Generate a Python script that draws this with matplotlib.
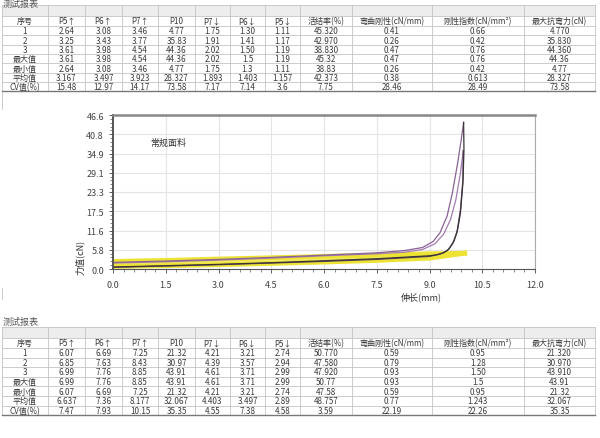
import numpy as np
import matplotlib
matplotlib.use('Agg')
import matplotlib.pyplot as plt
from matplotlib.ticker import MultipleLocator

plt.rcParams['font.family'] = ['Noto Sans CJK SC', 'DejaVu Sans']

# ---- table data ----
col_heads = ['序号', 'P5↑', 'P6↑', 'P7↑', 'P10', 'P7↓', 'P6↓', 'P5↓',
             '活结率(%)', '弯曲刚性(cN/mm)', '刚性指数(cN/mm²)', '最大抗弯力(cN)']
row_names = ['1', '2', '3', '最大值', '最小值', '平均值', 'CV值(%)']

table1 = [
    ['2.64', '3.08', '3.46', '4.77', '1.75', '1.30', '1.11', '45.320', '0.41', '0.66', '4.770'],
    ['3.25', '3.43', '3.77', '35.83', '1.91', '1.41', '1.17', '42.970', '0.26', '0.42', '35.830'],
    ['3.61', '3.98', '4.54', '44.36', '2.02', '1.50', '1.19', '38.830', '0.47', '0.76', '44.360'],
    ['3.61', '3.98', '4.54', '44.36', '2.02', '1.5', '1.19', '45.32', '0.47', '0.76', '44.36'],
    ['2.64', '3.08', '3.46', '4.77', '1.75', '1.3', '1.11', '38.83', '0.26', '0.42', '4.77'],
    ['3.167', '3.497', '3.923', '28.327', '1.893', '1.403', '1.157', '42.373', '0.38', '0.613', '28.327'],
    ['15.48', '12.97', '14.17', '73.58', '7.17', '7.14', '3.6', '7.75', '28.46', '28.49', '73.58'],
]
table2 = [
    ['6.07', '6.69', '7.25', '21.32', '4.21', '3.21', '2.74', '50.770', '0.59', '0.95', '21.320'],
    ['6.85', '7.63', '8.43', '30.97', '4.39', '3.57', '2.94', '47.580', '0.79', '1.28', '30.970'],
    ['6.99', '7.76', '8.85', '43.91', '4.61', '3.71', '2.99', '47.920', '0.93', '1.50', '43.910'],
    ['6.99', '7.76', '8.85', '43.91', '4.61', '3.71', '2.99', '50.77', '0.93', '1.5', '43.91'],
    ['6.07', '6.69', '7.25', '21.32', '4.21', '3.21', '2.74', '47.58', '0.59', '0.95', '21.32'],
    ['6.637', '7.36', '8.177', '32.067', '4.403', '3.497', '2.89', '48.757', '0.77', '1.243', '32.067'],
    ['7.47', '7.93', '10.15', '35.35', '4.55', '7.38', '4.58', '3.59', '22.19', '22.26', '35.35'],
]

# ---- curve data (elongation mm, force cN) ----
elong_up_1 = [0, 1.5, 3.0, 4.5, 6.0, 7.5, 9.0, 10.0]
force_up_1 = [2.3, 2.6, 3.0, 3.4, 3.8, 4.2, 4.6, 4.77]
elong_dn_1 = [10.0, 9.0, 7.5, 6.0, 4.5, 3.0, 1.5, 0]
force_dn_1 = [4.77, 3.3, 2.6, 2.1, 1.7, 1.3, 1.0, 0.8]

elong_up_2 = [0, 1.5, 3.0, 4.5, 6.0, 7.5, 8.3, 8.8, 9.15, 9.4, 9.6, 9.75, 9.88, 9.96]
force_up_2 = [1.8, 2.2, 2.7, 3.3, 4.0, 4.6, 5.1, 5.9, 7.6, 10.5, 15.0, 21.0, 29.0, 35.83]
elong_dn_2 = [9.96, 9.95, 9.88, 9.78, 9.65, 9.5, 9.3, 9.0, 7.5, 6.0, 4.5, 3.0, 1.5, 0]
force_dn_2 = [35.83, 27.0, 18.0, 11.0, 7.5, 5.5, 4.5, 3.8, 2.9, 2.3, 1.8, 1.3, 0.9, 0.5]

elong_up_3 = [0, 1.5, 3.0, 4.5, 6.0, 7.5, 8.3, 8.8, 9.1, 9.3, 9.5, 9.65, 9.8, 9.9, 9.97]
force_up_3 = [2.0, 2.4, 2.9, 3.5, 4.2, 4.9, 5.6, 6.5, 8.3, 11.0, 16.0, 23.0, 32.0, 39.0, 44.36]
elong_dn_3 = [9.97, 9.98, 9.95, 9.88, 9.8, 9.7, 9.55, 9.4, 9.2, 9.0, 7.5, 6.0, 4.5, 3.0, 1.5, 0]
force_dn_3 = [44.36, 36.0, 26.0, 17.0, 12.0, 8.5, 6.0, 4.9, 4.3, 4.0, 3.1, 2.5, 1.9, 1.4, 1.0, 0.6]

x_ticks = [0.0, 1.5, 3.0, 4.5, 6.0, 7.5, 9.0, 10.5, 12.0]
y_max = 46.6
y_labels = ['0.0', '5.8', '11.6', '17.5', '23.3', '29.1', '34.9', '40.8', '46.6']

col_x = [2, 48, 85, 122, 158, 195, 230, 265, 300, 352, 432, 524, 595]


def draw_table(bg, title_y, top, head_h, row_h, rows):
    txt = '#3a3a3a'
    line = '#c4c4c4'
    bg.text(3, title_y, '测试报表', fontsize=6.5, color='#555555', va='center', ha='left')
    # blank grey header strip
    bg.fill_between([col_x[0], col_x[-1]], top, top + head_h, color='#ededed', lw=0)
    y_head = top + head_h
    y_rows = y_head + head_h
    bottom = y_rows + row_h * len(rows)
    for x in col_x:
        bg.plot([x, x], [top, bottom], color=line, lw=0.6)
    for y in [top, y_head, y_rows] + [y_rows + row_h * (i + 1) for i in range(len(rows))]:
        bg.plot([col_x[0], col_x[-1]], [y, y], color=line, lw=0.6)
    bg.plot([col_x[0], col_x[-1]], [bottom, bottom], color='#777777', lw=1.0)
    centers = [(col_x[i] + col_x[i + 1]) / 2 for i in range(len(col_x) - 1)]
    for c, h in zip(centers, col_heads):
        bg.text(c, y_head + head_h / 2, h, fontsize=5.8, color=txt, ha='center', va='center')
    for r, (name, vals) in enumerate(zip(row_names, rows)):
        yc = y_rows + row_h * (r + 0.5)
        bg.text(centers[0], yc, name, fontsize=5.8, color=txt, ha='center', va='center')
        for c, v in zip(centers[1:], vals):
            bg.text(c, yc, v, fontsize=5.8, color=txt, ha='center', va='center')


fig = plt.figure(figsize=(6, 4.39), dpi=100)
bg = fig.add_axes([0, 0, 1, 1])
bg.set_xlim(0, 600)
bg.set_ylim(439, 0)
bg.axis('off')

draw_table(bg, 4.5, 6, 10.5, 9.35, table1)
draw_table(bg, 322, 328, 10.5, 9.6, table2)
# faint frame remnants on the left edge
bg.plot([2, 2], [93, 110], color='#c4c4c4', lw=0.6)
bg.plot([2, 2], [289, 300], color='#c4c4c4', lw=0.6)

# ---- chart ----
ax = fig.add_axes([113 / 600, 1 - 270 / 439, 422 / 600, 154 / 439])
ax.fill(elong_up_1 + elong_dn_1, force_up_1 + force_dn_1, color='#f4ec70', lw=0, alpha=0.85)
ax.plot(elong_up_1, force_up_1, color='#ede335', lw=3.5)
ax.plot(elong_dn_1, force_dn_1, color='#ede335', lw=3.5)
ax.plot(elong_up_2, force_up_2, color='#a57ab3', lw=0.9)
ax.plot(elong_dn_2, force_dn_2, color='#5e4a63', lw=0.9)
ax.plot(elong_up_3, force_up_3, color='#8a6296', lw=0.9)
ax.plot(elong_dn_3, force_dn_3, color='#3a3338', lw=0.9)

ax.set_xlim(0, 12)
ax.set_ylim(0, y_max)
ax.set_xticks(x_ticks)
ax.set_xticklabels(['%.1f' % v for v in x_ticks])
ax.set_yticks(np.linspace(0, y_max, len(y_labels)))
ax.set_yticklabels(y_labels)
ax.xaxis.set_minor_locator(MultipleLocator(0.3))
ax.yaxis.set_minor_locator(MultipleLocator(y_max / 40))
ax.tick_params(labelsize=6.5, colors='#444444', length=3, width=0.6)
ax.tick_params(axis='x', pad=5)
ax.tick_params(which='minor', length=2, width=0.5, colors='#555555')
ax.grid(True, color='#e4e4e4', lw=0.8)
ax.set_axisbelow(True)
ax.spines['left'].set_color('#555555')
ax.spines['left'].set_linewidth(1.4)
ax.spines['bottom'].set_color('#555555')
ax.spines['top'].set_color('#888888')
ax.spines['top'].set_linewidth(1.8)
ax.spines['right'].set_color('#aaaaaa')
ax.spines['right'].set_linewidth(0.8)

ax.text(1.05, 38.5, '常规面料', fontsize=6.5, color='#333333', ha='left', va='center')
fig.text(80 / 600, 1 - 257 / 439, '力值(cN)', rotation=90, fontsize=6.5,
         color='#333333', ha='center', va='center')
fig.text(421 / 600, 1 - 297 / 439, '伸长(mm)', fontsize=6.5, color='#333333',
         ha='center', va='center')

fig.savefig('out.png', dpi=100)
